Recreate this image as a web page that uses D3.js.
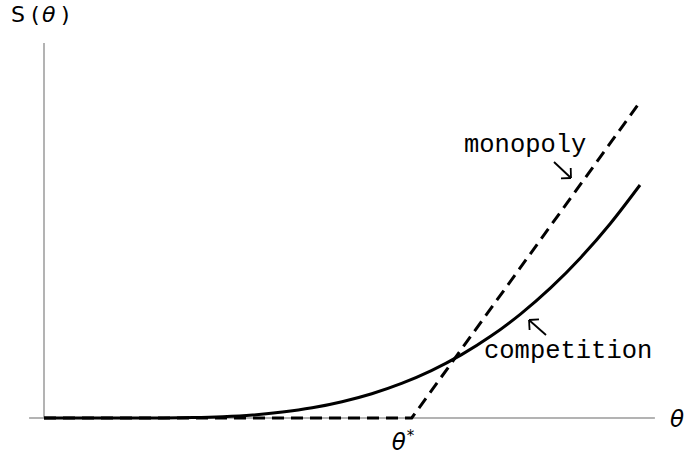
<!DOCTYPE html>
<html><head><meta charset="utf-8">
<script src="https://cdn.jsdelivr.net/npm/d3@7"></script>
<style>body{margin:0;background:#fff}svg{display:block}</style>
</head><body>
<script>
// Data (theta in [0,1], S in arbitrary units)
const compTheta = [0, 0.15, 0.2, 0.25, 0.3, 0.35, 0.4, 0.45, 0.5, 0.55, 0.6, 0.65, 0.7, 0.75, 0.8, 0.85, 0.9, 0.95, 1.0];
const compS     = [0, 0, 0.05, 0.38, 1.3, 3.0, 5.9, 10.2, 16.3, 24.3, 34.6, 47.4, 63.1, 81.9, 104.2, 130.1, 160.1, 194.3, 233];
const monoTheta = [0, 0.617, 1.0];
const monoS     = [0, 0, 316];
const thetaStar = 0.617;
const labels = {y: "S", x: "\u03B8", star: "\u03B8", mono: "monopoly", comp: "competition"};

const W = 689, H = 457;
const svg = d3.select("body").append("svg").attr("width", W).attr("height", H);
const x = d3.scaleLinear().domain([0, 1]).range([44, 640]);
const y = d3.scaleLinear().domain([0, 375]).range([418, 43]);

// axes
svg.append("line").attr("x1", x(-0.025)).attr("x2", x(1.025)).attr("y1", y(0)).attr("y2", y(0))
  .attr("stroke", "#9a9a9a").attr("stroke-width", 1.5);
svg.append("line").attr("x1", x(0)).attr("x2", x(0)).attr("y1", y(0)).attr("y2", y(375))
  .attr("stroke", "#9a9a9a").attr("stroke-width", 1.5);

svg.append("path").datum(compTheta.map((t, i) => [t, compS[i]]))
  .attr("d", d3.line().x(d => x(d[0])).y(d => y(d[1])).curve(d3.curveMonotoneX))
  .attr("fill", "none").attr("stroke", "#000").attr("stroke-width", 3);
svg.append("path").datum(monoTheta.map((t, i) => [t, monoS[i]]))
  .attr("d", d3.line().x(d => x(d[0])).y(d => y(d[1]))).attr("fill", "none").attr("stroke", "#000")
  .attr("stroke-width", 3).attr("stroke-dasharray", "12,7");

// labels
const sans = "'DejaVu Sans', sans-serif";
const mono = "'Liberation Mono', 'Courier New', monospace";
const yl = svg.append("text").attr("y", 22).attr("font-family", sans).attr("font-size", 22).attr("fill", "#000");
yl.append("tspan").attr("x", 11).text(labels.y);
yl.append("tspan").attr("x", 31).text("(");
yl.append("tspan").attr("x", 42).attr("font-style", "italic").text(labels.x);
yl.append("tspan").attr("x", 61).text(")");
svg.append("text").attr("x", 670).attr("y", 427).attr("font-family", sans).attr("font-size", 23)
  .attr("font-style", "italic").text(labels.x);
const st = svg.append("text").attr("x", x(thetaStar) - 20).attr("y", 450).attr("font-family", sans).attr("font-size", 23);
st.append("tspan").attr("font-style", "italic").text(labels.star);
st.append("tspan").attr("dx", 1).attr("dy", -9).attr("font-size", 15).text("*");

svg.append("text").attr("x", 464).attr("y", 152).attr("font-family", mono).attr("font-size", 25.5).text(labels.mono);
svg.append("text").attr("x", 484).attr("y", 358).attr("font-family", mono).attr("font-size", 25.5).text(labels.comp);

// arrows
function arrow(x1, y1, x2, y2) {
  const g = svg.append("g").attr("stroke", "#000").attr("stroke-width", 1.8).attr("fill", "none");
  g.append("line").attr("x1", x1).attr("y1", y1).attr("x2", x2).attr("y2", y2);
  const a = Math.atan2(y2 - y1, x2 - x1), L = 10;
  [a + Math.PI * 0.75, a - Math.PI * 0.75].forEach(b => {
    g.append("line").attr("x1", x2).attr("y1", y2).attr("x2", x2 + L * Math.cos(b)).attr("y2", y2 + L * Math.sin(b));
  });
}
arrow(554, 162, 571, 178);
arrow(546, 335, 529, 320);
</script>
</body></html>
